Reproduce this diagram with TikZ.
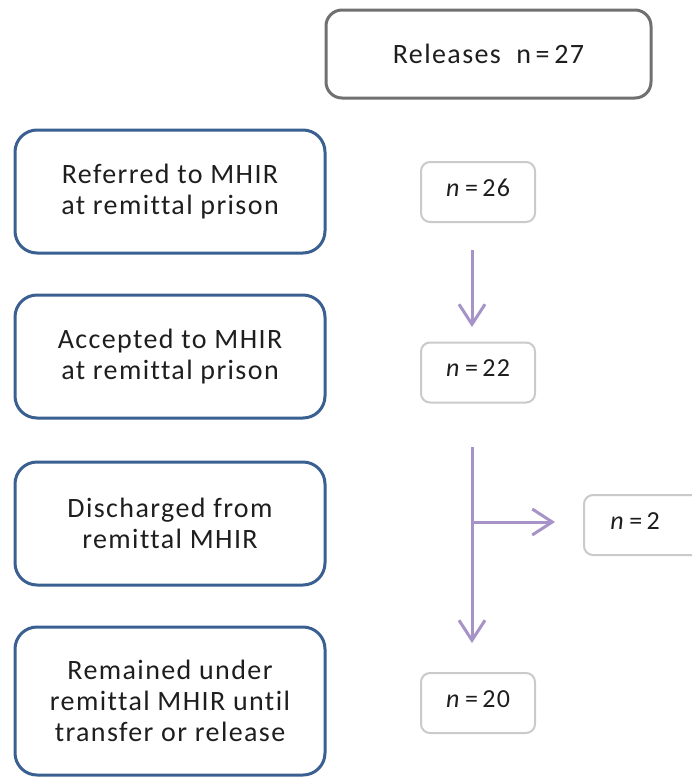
\documentclass[tikz,border=0pt]{standalone}
\usepackage{fontspec}
\setmainfont{Carlito}[LetterSpace=5,Ligatures=NoCommon]
\usetikzlibrary{arrows.meta,calc}
\definecolor{boxblue}{RGB}{58,95,145}
\definecolor{boxgray}{RGB}{112,112,112}
\definecolor{countgray}{RGB}{202,202,202}
\definecolor{flowpurple}{RGB}{166,148,200}
\definecolor{txt}{RGB}{30,30,30}
\begin{document}
\begin{tikzpicture}[x=1pt,y=-1pt,
  stage/.style={draw=boxblue, line width=3pt, rounded corners=22pt,
    minimum width=310pt, minimum height=123pt, align=center,
    font=\fontsize{28}{31}\selectfont, text=txt, inner sep=0pt},
  total/.style={draw=boxgray, line width=3pt, rounded corners=16pt,
    minimum width=325pt, minimum height=88pt,
    font=\fontsize{28}{31}\selectfont, text=txt, inner sep=0pt},
  count/.style={draw=countgray, line width=2pt, rounded corners=9pt,
    minimum width=114pt, minimum height=60pt, text depth=8pt,
    font=\fontsize{26}{30}\selectfont, text=txt, inner sep=0pt},
  flow/.style={draw=flowpurple, line width=3pt},
  flowarrow/.style={flow, -{Straight Barb[length=20pt,width=26pt,line width=3pt]}},
]
\useasboundingbox (0,0) rectangle (692,777);

% overall total
\node[total] (releases) at (488.5,54) {Releases\ \ n\,=\,27};

% pathway stages
\node[stage] (referred)   at (170,191.5) {Referred to MHIR\\at remittal prison};
\node[stage] (accepted)   at (170,356.5) {Accepted to MHIR\\at remittal prison};
\node[stage] (discharged) at (170,523.5) {Discharged from\\remittal MHIR};
\node[stage, minimum height=148pt] (remained) at (170,701)
  {Remained under\\remittal MHIR until\\transfer or release};

% counts
\node[count] (n26) at (478,192) {\textit{n}\,=\,26};
\node[count] (n22) at (478,372.5) {\textit{n}\,=\,22};
\node[count] (n20) at (478,703) {\textit{n}\,=\,20};
\node[count, minimum width=140pt, anchor=west] (n2) at (583,525)
  {\hspace{-38pt}\textit{n}\,=\,2};

% flow arrows
\coordinate (a1top) at (472,250);
\coordinate (a1tip) at (472,327);
\coordinate (a2top) at (472,447);
\coordinate (a2tip) at (472,643);
\coordinate (branch) at (472,522);
\coordinate (btip) at (555,522);
\draw[flowarrow] (a1top) -- (a1tip);
\draw[flowarrow] (a2top) -- (a2tip);
\draw[flowarrow] (branch) -- (btip);
\end{tikzpicture}
\end{document}
